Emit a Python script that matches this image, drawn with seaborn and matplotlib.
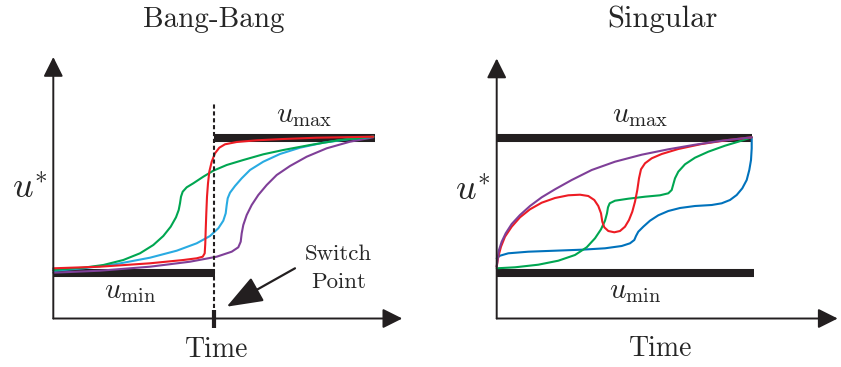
import numpy as np
import pandas as pd
import seaborn as sns
import matplotlib.pyplot as plt

sns.set_style("white")
plt.rcParams["font.family"] = ["cmr10", "DejaVu Serif"]
plt.rcParams["mathtext.fontset"] = "cm"
plt.rcParams["axes.unicode_minus"] = False

INK = "#231f20"

# ? Bang-Bang panel: time (t) vs control (u), schematic units
bb_red_t = [0.0, 4.67, 9.67, 13.0, 14.34, 14.94, 15.14, 15.2, 15.24, 15.3, 15.37, 15.47, 15.6, 15.84, 16.17, 16.6, 17.17, 18.34, 20.34, 23.0, 26.34, 32.0]
bb_red_u = [5.02, 5.18, 5.52, 5.85, 6.02, 6.18, 6.52, 7.52, 8.85, 10.52, 12.18, 13.52, 14.68, 15.68, 16.52, 17.08, 17.42, 17.65, 17.82, 17.95, 18.08, 18.18]
bb_green_t = [0.0, 3.0, 5.0, 7.0, 8.67, 10.0, 11.0, 11.74, 12.27, 12.54, 12.67, 12.77, 12.94, 13.34, 14.0, 15.0, 16.0, 17.34, 19.0, 21.0, 23.0, 25.67, 28.67, 32.0]
bb_green_u = [4.85, 5.08, 5.35, 5.85, 6.52, 7.35, 8.25, 9.18, 10.12, 10.85, 11.52, 12.18, 12.68, 13.12, 13.52, 14.18, 14.78, 15.35, 15.85, 16.42, 16.85, 17.35, 17.85, 18.18]
bb_cyan_t = [0.0, 3.0, 6.34, 9.67, 12.34, 14.34, 15.67, 16.5, 17.0, 17.24, 17.34, 17.44, 17.67, 18.17, 18.84, 19.67, 21.0, 22.67, 24.67, 27.0, 29.67, 32.0]
bb_cyan_u = [4.78, 5.02, 5.45, 6.08, 6.78, 7.52, 8.25, 9.02, 9.78, 10.52, 11.35, 12.02, 12.58, 13.25, 14.02, 14.85, 15.68, 16.45, 17.08, 17.58, 17.95, 18.18]
bb_purple_t = [0.0, 4.67, 9.67, 13.67, 16.34, 17.84, 18.5, 18.74, 18.84, 19.0, 19.34, 19.84, 20.5, 21.34, 22.34, 23.67, 25.34, 27.34, 29.67, 32.0]
bb_purple_u = [4.58, 4.78, 5.18, 5.68, 6.18, 6.68, 7.12, 7.68, 8.52, 9.35, 10.35, 11.35, 12.35, 13.35, 14.35, 15.25, 16.18, 17.02, 17.68, 18.12]
bb_switch = 16.07
bb_umin_t = [0.0, 16.2]
bb_umax_t = [16.07, 32.2]

# ? Singular panel
sg_purple_t = [0.0, 0.1, 0.23, 0.5, 0.9, 1.5, 2.33, 3.33, 4.5, 5.83, 7.5, 9.5, 11.83, 14.5, 17.16, 19.83, 22.5, 25.5]
sg_purple_u = [5.18, 6.02, 6.85, 7.68, 8.52, 9.45, 10.35, 11.25, 12.12, 12.92, 13.85, 14.85, 15.68, 16.38, 16.92, 17.38, 17.78, 18.12]
sg_red_t = [0.0, 0.16, 0.43, 0.83, 1.5, 2.33, 3.33, 4.5, 5.83, 7.16, 8.33, 9.16, 9.76, 10.16, 10.43, 10.56, 10.76, 11.16, 11.76, 12.33, 12.83, 13.23, 13.56, 13.83, 14.06, 14.23, 14.43, 14.83, 15.5, 16.5, 18.16, 20.5, 23.16, 25.5]
sg_red_u = [5.18, 6.18, 7.18, 8.18, 9.18, 10.12, 10.92, 11.58, 12.05, 12.32, 12.38, 12.25, 11.85, 11.25, 10.52, 9.68, 9.12, 8.75, 8.62, 8.75, 9.18, 9.85, 10.68, 11.68, 12.85, 14.02, 14.92, 15.52, 16.02, 16.45, 16.95, 17.45, 17.85, 18.12]
sg_green_t = [0.0, 1.83, 4.16, 6.16, 7.83, 9.0, 9.83, 10.43, 10.83, 11.03, 11.13, 11.3, 11.83, 13.16, 14.83, 16.33, 17.16, 17.5, 17.66, 17.83, 18.16, 18.83, 19.83, 21.16, 22.83, 24.16, 25.5]
sg_green_u = [5.02, 5.12, 5.38, 5.78, 6.35, 7.12, 8.02, 8.92, 9.78, 10.52, 11.12, 11.52, 11.78, 11.98, 12.18, 12.32, 12.52, 12.85, 13.42, 14.02, 14.68, 15.42, 16.08, 16.68, 17.28, 17.68, 18.12]
sg_blue_t = [0.0, 0.33, 1.16, 3.16, 5.83, 8.5, 10.83, 12.5, 13.33, 13.76, 13.93, 14.16, 14.66, 15.33, 16.16, 17.16, 18.33, 19.83, 21.5, 22.5, 23.33, 24.0, 24.56, 25.0, 25.26, 25.43, 25.5, 25.5]
sg_blue_u = [6.02, 6.28, 6.52, 6.68, 6.78, 6.88, 7.02, 7.25, 7.52, 7.85, 8.25, 8.68, 9.18, 9.78, 10.32, 10.75, 11.05, 11.25, 11.35, 11.52, 11.85, 12.35, 13.02, 13.85, 14.85, 15.85, 17.02, 18.1]
sg_umin_t = [0.0, 25.7]
sg_umax_t = [0.0, 25.5]

u_min_level = 4.55
u_max_level = 18.1


def curve(ax, t, u, color, lw=1.5, **kw):
    df = pd.DataFrame({"t": t, "u": u})
    sns.lineplot(data=df, x="t", y="u", sort=False, estimator=None,
                 color=color, lw=lw, ax=ax, **kw)


def axis_arrow(ax, xy_from, xy_to):
    ax.annotate("", xy=xy_to, xytext=xy_from,
                arrowprops=dict(arrowstyle="-|>,head_length=0.6,head_width=0.3",
                                color=INK, lw=1.4, mutation_scale=20,
                                shrinkA=0, shrinkB=0))


fig = plt.figure(figsize=(8.41, 3.67), dpi=100)
ax1 = fig.add_axes([0, 0, 420 / 841, 1])
ax2 = fig.add_axes([420 / 841, 0, 421 / 841, 1])

# ---- Bang-Bang
curve(ax1, bb_umin_t, [u_min_level] * 2, INK, lw=5.8, solid_capstyle="butt")
curve(ax1, bb_umax_t, [u_max_level] * 2, INK, lw=5.8, solid_capstyle="butt")
curve(ax1, bb_purple_t, bb_purple_u, "#7f3f98")
curve(ax1, bb_cyan_t, bb_cyan_u, "#29abe2")
curve(ax1, bb_green_t, bb_green_u, "#00a651")
curve(ax1, bb_red_t, bb_red_u, "#ed1c24")
ax1.plot([bb_switch, bb_switch], [1.1, 21.7], color=INK, lw=1.5, ls=(0, (2, 1.3)))
ax1.plot([bb_switch, bb_switch], [0.85, -0.95], color=INK, lw=3, solid_capstyle="butt")
axis_arrow(ax1, (0, 0), (0, 26.15))
axis_arrow(ax1, (0, 0), (34.9, 0))
ax1.annotate("", xy=(17.34, 1.18), xytext=(24.17, 5.02),
             arrowprops=dict(arrowstyle="-|>,head_length=0.8,head_width=0.3",
                             color=INK, lw=1.6, mutation_scale=28,
                             shrinkA=0, shrinkB=0))
ax1.text(16.07, 29.18, "Bang-Bang", ha="center", va="baseline", fontsize=21)
ax1.text(16.34, -3.88, "Time", ha="center", va="baseline", fontsize=20)
ax1.text(-4.1, 12.02, r"$u^{\ast}$", ha="left", va="baseline", fontsize=26)
ax1.text(25.05, 19.68, r"$u_{\rm max}$", ha="center", va="baseline", fontsize=21)
ax1.text(7.67, 2.02, r"$u_{\rm min}$", ha="center", va="baseline", fontsize=21)
ax1.text(28.52, 5.85, "Switch", ha="center", va="baseline", fontsize=16.5)
ax1.text(28.52, 3.02, "Point", ha="center", va="baseline", fontsize=16.5)

# ---- Singular
curve(ax2, sg_umin_t, [u_min_level + 0.05] * 2, INK, lw=5.8, solid_capstyle="butt")
curve(ax2, sg_umax_t, [u_max_level] * 2, INK, lw=5.8, solid_capstyle="butt")
curve(ax2, sg_blue_t, sg_blue_u, "#0072bc")
curve(ax2, sg_green_t, sg_green_u, "#00a651")
curve(ax2, sg_red_t, sg_red_u, "#ed1c24")
curve(ax2, sg_purple_t, sg_purple_u, "#7f3f98")
axis_arrow(ax2, (0, 0), (0, 26.0))
axis_arrow(ax2, (0, 0), (34.1, 0))
ax2.text(16.58, 29.18, "Singular", ha="center", va="baseline", fontsize=22)
ax2.text(16.38, -3.75, "Time", ha="center", va="baseline", fontsize=20)
ax2.text(-4.17, 11.85, r"$u^{\ast}$", ha="left", va="baseline", fontsize=26)
ax2.text(14.38, 19.68, r"$u_{\rm max}$", ha="center", va="baseline", fontsize=21)
ax2.text(13.88, 2.02, r"$u_{\rm min}$", ha="center", va="baseline", fontsize=21)

ax1.set_xlim(-5.33, 36.67)
ax1.set_ylim(-4.85, 31.85)
ax2.set_xlim(-7.67, 34.43)
ax2.set_ylim(-4.85, 31.85)
for ax in (ax1, ax2):
    ax.axis("off")

fig.savefig("out.png", dpi=100)
